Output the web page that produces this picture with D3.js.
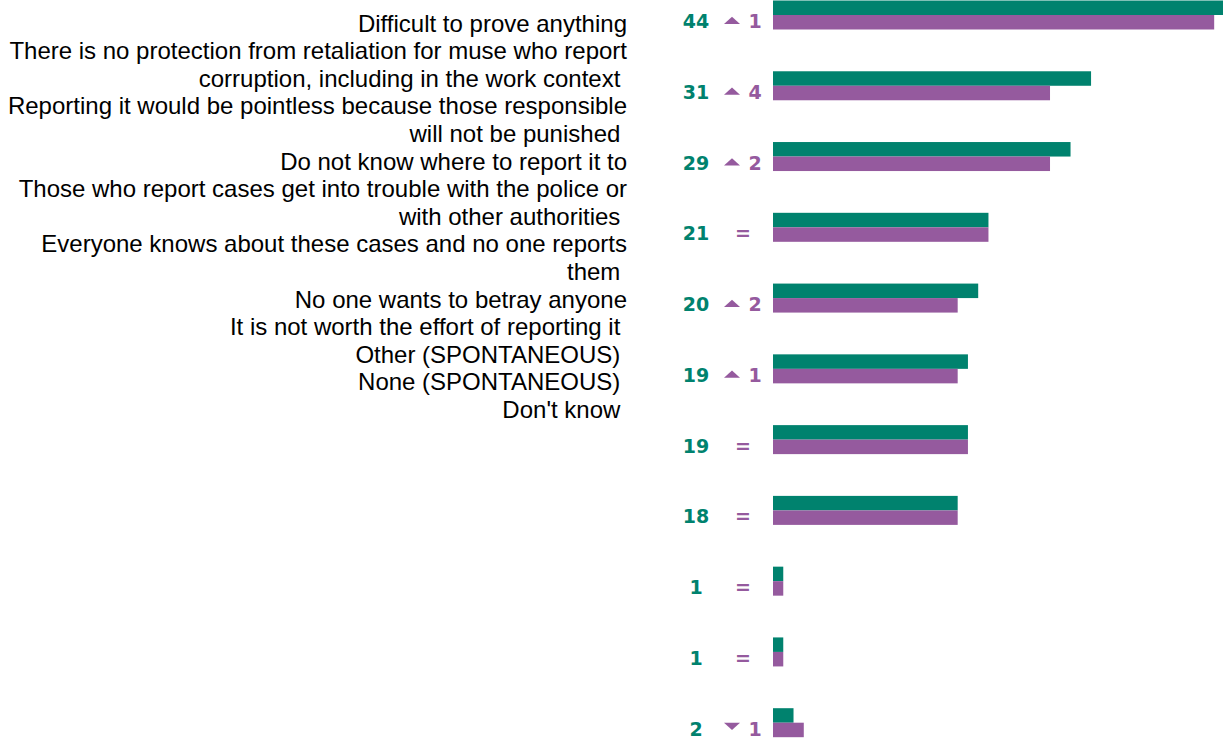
<!DOCTYPE html>
<html>
<head>
<meta charset="utf-8">
<script src="https://cdn.jsdelivr.net/npm/d3@7"></script>
<style>
  html, body { margin: 0; padding: 0; background: #fff; }
  svg { display: block; }
  .reason { font-family: "Liberation Sans", Arial, sans-serif; font-size: 24px; fill: #000; white-space: pre; }
  .val { font-family: "DejaVu Sans", Verdana, sans-serif; font-weight: bold; font-size: 19px; }
</style>
</head>
<body>
<svg id="chart" width="1223" height="738"></svg>
<script>
// Reasons for not reporting corruption (multi-line labels split on "\n")
const categories = [
  "Difficult to prove anything",
  "There is no protection from retaliation for muse who report\ncorruption, including in the work context ",
  "Reporting it would be pointless because those responsible\nwill not be punished ",
  "Do not know where to report it to",
  "Those who report cases get into trouble with the police or\nwith other authorities ",
  "Everyone knows about these cases and no one reports\nthem ",
  "No one wants to betray anyone",
  "It is not worth the effort of reporting it ",
  "Other (SPONTANEOUS) ",
  "None (SPONTANEOUS) ",
  "Don't know "
];
// Current wave (%)
const current = [44, 31, 29, 21, 20, 19, 19, 18, 1, 1, 2];
// Previous wave (%)
const previous = [43, 27, 27, 21, 18, 18, 19, 18, 1, 1, 3];
// Change vs previous wave: direction and size
const changeDir = ["up", "up", "up", "same", "up", "up", "same", "same", "same", "same", "down"];
const changeVal = [1, 4, 2, 0, 2, 1, 0, 0, 0, 0, 1];

const GREEN = "#00826e";
const PURPLE = "#955a9e";

const svg = d3.select("#chart");

// Left block of reason labels, right-aligned, flowing line by line
const lines = categories.flatMap(c => c.split("\n"));
const lineY = d3.scaleLinear().domain([0, 1]).range([31.5, 31.5 + 27.6]);
svg.append("g")
  .selectAll("text")
  .data(lines)
  .join("text")
  .attr("class", "reason")
  .attr("x", 627)
  .attr("y", (d, i) => lineY(i))
  .attr("text-anchor", "end")
  .text(d => d);

// Bar rows
const y = d3.scalePoint().domain(categories).range([15, 722.7]);
const x = d3.scaleLinear().domain([0, 50]).range([773, 773 + 513]);
const barH = 14.5;

const rows = svg.append("g")
  .selectAll("g")
  .data(categories.map((c, i) => ({
    cat: c, cur: current[i], prev: previous[i], dir: changeDir[i], chg: changeVal[i]
  })))
  .join("g")
  .attr("transform", d => `translate(0,${y(d.cat)})`);

rows.append("rect")
  .attr("x", x(0))
  .attr("y", -barH)
  .attr("width", d => x(d.cur) - x(0))
  .attr("height", barH)
  .attr("fill", GREEN);

rows.append("rect")
  .attr("x", x(0))
  .attr("y", 0)
  .attr("width", d => x(d.prev) - x(0))
  .attr("height", barH)
  .attr("fill", PURPLE);

// Current value
rows.append("text")
  .attr("class", "val")
  .attr("x", 696)
  .attr("y", 13)
  .attr("text-anchor", "middle")
  .attr("fill", GREEN)
  .text(d => d.cur);

// Change indicator
rows.filter(d => d.dir === "same").append("text")
  .attr("class", "val")
  .attr("x", 743)
  .attr("y", 13)
  .attr("text-anchor", "middle")
  .attr("fill", PURPLE)
  .text("=");

rows.filter(d => d.dir !== "same").append("path")
  .attr("fill", PURPLE)
  .attr("d", d => d.dir === "up"
    ? "M724,9L732,1.7L740,9Z"
    : "M724,0L740,0L732,7.3Z");

rows.filter(d => d.dir !== "same").append("text")
  .attr("class", "val")
  .attr("x", 755)
  .attr("y", 13)
  .attr("text-anchor", "middle")
  .attr("fill", PURPLE)
  .text(d => d.chg);
</script>
</body>
</html>
